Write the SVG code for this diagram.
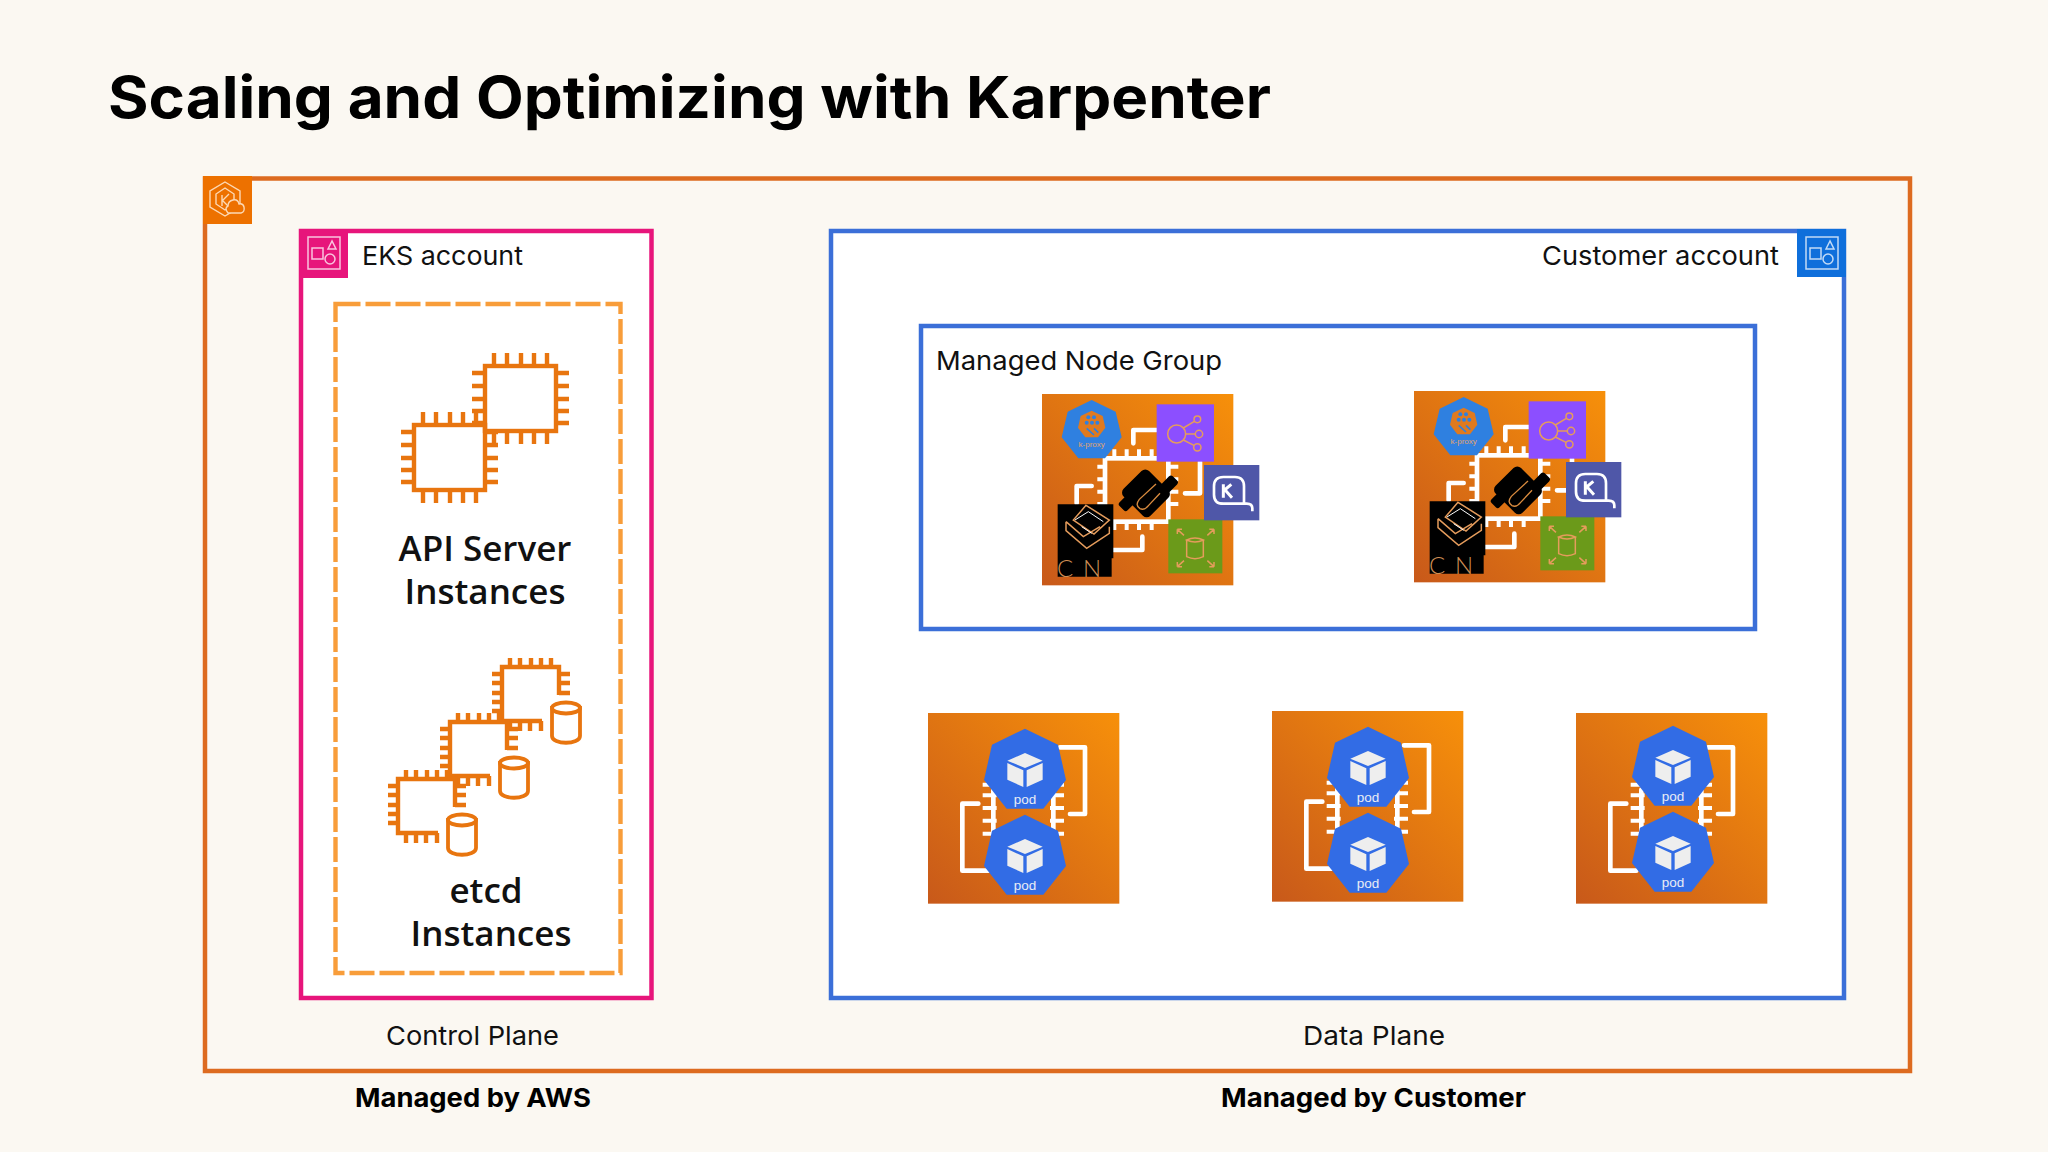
<svg xmlns="http://www.w3.org/2000/svg" xmlns:xlink="http://www.w3.org/1999/xlink" width="2048" height="1152" viewBox="0 0 2048 1152">
<style>
.m{font-family:"Inter","Liberation Sans",sans-serif;fill:#111}
.lab{font-size:26px;font-weight:400}
.bold{font-size:26px;font-weight:700;fill:#000}
.os{font-family:"Open Sans","Noto Sans",sans-serif;font-size:35px;font-weight:600;fill:#111;text-anchor:middle}
.chip{fill:none;stroke:#e8750f;stroke-width:4.400}
.cyl{fill:#fff;stroke:#e8750f;stroke-width:3.800}
.wl{fill:none;stroke:#fff;stroke-width:14;stroke-linejoin:round;stroke-linecap:round}
.pin{fill:none;stroke:#fff;stroke-width:12}
.tan{fill:none;stroke:#e59c5c;stroke-width:4.500}
.pod{font-family:"Liberation Sans",Arial,sans-serif;font-size:13.500px;fill:#e9edf5;text-anchor:middle}
.tile{fill:none;stroke:#fff;stroke-opacity:.75;stroke-width:1.500}
</style>
<defs>
<linearGradient id="og" x1="0" y1="1" x2="1" y2="0"><stop offset="0" stop-color="#c8591a"/><stop offset="1" stop-color="#f7900a"/></linearGradient>
<g id="tiles">
<rect class="tile" x="9" y="8" width="32" height="32"/>
<rect class="tile" x="13" y="19" width="11" height="11"/>
<path class="tile" d="M33 12L29 20H37Z"/>
<circle class="tile" cx="31" cy="30" r="5"/>
</g>
<g id="chipA" class="chip">
<rect x="0" y="0" width="71" height="65"/>
<path d="M9-13V0M22-13V0M36-13V0M49-13V0M62-13V0M9 65V78M22 65V78M36 65V78M49 65V78M62 65V78M-13 7H0M-13 20H0M-13 33H0M-13 45H0M-13 57H0M71 7H84M71 20H84M71 33H84M71 45H84M71 57H84"/>
</g>
<g id="chipB">
<path class="chip" d="M40 54H0V0H57V28M8-9V0M18-9V0M29-9V0M39-9V0M49-9V0M-10 7H0M-10 16H0M-10 26H0M-10 35H0M-10 44H0M57 7H68M57 16H68M57 26H68M8 54V64M18 54V64M28 54V64M39 54V64"/>
<path class="cyl" d="M50 41V69C50 78 78 78 78 69V41Z"/>
<ellipse class="cyl" cx="64" cy="41" rx="14" ry="5.500"/>
</g>
<g id="hept"><polygon points="0,-126 99,-78 123,28 55,114 -55,114 -123,28 -99,-78" fill="#326ce5"/>
<path d="M0-53L53-30L0-8L-53-30ZM-53-23L-5-1V49L-53 27ZM5-1L53-23V27L5 49Z" fill="#eee"/></g>
<g id="podBase" transform="scale(.33333) translate(-54,-40)">
<rect x="54" y="40" width="574" height="572" fill="url(#og)"/>
<path class="wl" d="M450 143H525V343H480M235 513H157V312H205"/>
<path class="wl" d="M250 270V400M430 270V400"/>
<path class="pin" d="M218 255H260M218 287H260M218 325H260M218 363H260M218 402H260M420 255H462M420 287H462M420 325H462M420 363H462M420 402H462"/>
</g>
<g id="podHepts" transform="scale(.33333) translate(-54,-40)">
<use href="#hept" transform="translate(345,213)"/>
<use href="#hept" transform="translate(345,471)"/>
</g>
<g id="nodeBase" transform="scale(.33333) translate(-66,-42)">
<rect x="66" y="42" width="574" height="574" fill="url(#og)"/>
<rect x="255" y="235" width="190" height="190" fill="none" stroke="#fff" stroke-width="14"/>
<path class="pin" d="M283 208V235M320 208V235M357 208V235M395 208V235M283 425V450M320 425V450M357 425V450M395 425V450M232 260H255M232 298H255M232 335H255M232 372H255M445 260H475M445 298H475M445 335H475M445 372H475"/>
<path class="wl" d="M340 190V150H410M540 245V340H495M170 370V318H215M280 510H367V470"/>
<g transform="rotate(-45 385 340)" fill="#000">
<rect x="326" y="278" width="108" height="114" rx="16"/>
<rect x="425" y="348" width="48" height="34" rx="8"/>
<rect x="297" y="298" width="48" height="34" rx="8"/>
</g>
<path d="M408 312L358 358Q344 376 360 386Q374 392 386 376L420 340" fill="none" stroke="#d98b3f" stroke-width="4"/>
<polygon points="215,60 287,95 305,172 255,235 175,235 125,172 143,95" fill="#2f80e0"/>
<polygon points="215,92 248,108 256,143 234,172 196,172 174,143 182,108" fill="#e07a1f"/>
<g fill="#2f80e0"><circle cx="205" cy="112" r="6"/><circle cx="222" cy="112" r="6"/><circle cx="200" cy="128" r="6"/><circle cx="216" cy="128" r="6"/><circle cx="232" cy="128" r="6"/></g>
<path d="M200 145L222 165M222 145L235 158" stroke="#2f80e0" stroke-width="5" fill="none"/>
<rect x="410" y="73" width="172" height="172" fill="#8c4fff"/>
<circle class="tan" cx="470" cy="162" r="27"/><circle class="tan" cx="532" cy="118" r="10"/><circle class="tan" cx="537" cy="162" r="11"/><circle class="tan" cx="532" cy="202" r="11"/>
<path class="tan" d="M490 144L523 124M497 162H526M490 180L522 196"/>
<rect x="445" y="418" width="162" height="162" fill="#6b9a1a"/>
<path class="tan" d="M500 480V530Q525 542 550 530V480M500 480Q525 468 550 480Q525 492 500 480ZM472 448L492 466M472 448V462M472 448H486M582 448L562 466M582 448V462M582 448H568M472 560L492 542M472 560V546M472 560H486M582 560L562 542M582 560V546M582 560H568"/>
<path d="M113 373H280V535H275V590H113Z" fill="#000"/>
<path class="tan" d="M198 376L268 420L222 462L160 420ZM138 425V452L200 505L268 460V440M138 425L190 470L240 440"/>
<path d="M165 420L205 395L250 425M185 440L215 460" fill="none" stroke="#fff" stroke-width="3"/>
</g>
<g id="kbox" transform="scale(.33333)">
<rect x="0" y="0" width="166" height="166" fill="#4f57a8"/>
<path d="M145 139V130Q145 116 128 116H58Q30 116 30 89V64Q30 36 58 36H93Q120 36 120 64V116" fill="none" stroke="#fff" stroke-width="8"/>
<path d="M58 58V98M58 78L82 58M64 76L84 98" fill="none" stroke="#fff" stroke-width="9"/>
</g>
</defs>
<rect width="2048" height="1152" fill="#fbf8f2"/>
<g id="title"><text x="108" y="118" font-size="58" font-weight="700" class="m" style="fill:#000" textLength="1163" lengthAdjust="spacingAndGlyphs">Scaling and Optimizing with Karpenter</text></g>
<g id="eks-cluster">
<rect x="205" y="178.500" width="1705" height="892.500" fill="#fbf8f2" stroke="#dd6b20" stroke-width="4.500"/>
<rect x="203" y="176" width="49" height="48" fill="#ed7100"/>
<g fill="none" stroke="#fcd9b5" stroke-width="1.400">
<path d="M225 182L240 191V207L225 216L210 207V191Z"/><path d="M225 188L234 194V204L225 210L216 204V194Z"/><path d="M222 195V206M222 201L229 194M223 201L230 208"/>
<path d="M228 213H241Q245 212 244 207Q243 203 239 204Q238 199 233 200Q228 201 228 206Q224 208 228 213Z" fill="#ed7100"/>
</g>
</g>
<g id="eks-account">
<rect x="301" y="231" width="350.500" height="767" fill="#fff" stroke="#e7157b" stroke-width="4.500"/>
<rect x="299" y="229" width="49" height="49" fill="#e7157b"/>
<use href="#tiles" x="299" y="229"/>
<text x="362" y="265" class="m lab" textLength="161" lengthAdjust="spacingAndGlyphs">EKS account</text>
</g>
<g id="control-plane-group"><rect x="335.500" y="304" width="285" height="669" fill="none" stroke="#f89d3a" stroke-width="4.400" stroke-dasharray="25 5"/></g>
<g id="api-server">
<use href="#chipA" transform="translate(485,366)"/>
<use href="#chipA" transform="translate(414,425)"/>
<text x="485" y="561" class="os">API Server</text>
<text x="485" y="604" class="os">Instances</text>
</g>
<g id="etcd">
<use href="#chipB" transform="translate(502,667)"/>
<use href="#chipB" transform="translate(450,722)"/>
<use href="#chipB" transform="translate(398,779)"/>
<text x="486" y="903" class="os">etcd</text>
<text x="491" y="946" class="os">Instances</text>
</g>
<g id="customer-account">
<rect x="831" y="231" width="1013" height="767" fill="#fff" stroke="#3b6fd8" stroke-width="4.500"/>
<rect x="1797" y="229" width="49" height="48" fill="#0f6fdb"/>
<use href="#tiles" x="1797" y="229"/>
<text x="1542" y="265" class="m lab" textLength="237" lengthAdjust="spacingAndGlyphs">Customer account</text>
</g>
<g id="managed-node-group">
<rect x="921" y="326" width="834" height="303" fill="#fff" stroke="#3b6fd8" stroke-width="4.500"/>
<text x="936" y="370" class="m lab" textLength="286" lengthAdjust="spacingAndGlyphs">Managed Node Group</text>
</g>
<g id="node-1" transform="translate(1042,394)">
<use href="#nodeBase"/>
<use href="#kbox" x="162" y="71"/>
<text x="49.700" y="52.700" font-family="Liberation Sans,sans-serif" font-size="8" fill="#e2a36a" text-anchor="middle">k-proxy</text>
<text x="15" y="182.700" font-family="Lato,Liberation Sans,sans-serif" font-size="24" font-weight="300" fill="#cf8f55" textLength="44">CN</text>
</g>
<g id="node-2" transform="translate(1414,391)">
<use href="#nodeBase"/>
<use href="#kbox" x="152" y="71"/>
<text x="49.700" y="52.700" font-family="Liberation Sans,sans-serif" font-size="8" fill="#e2a36a" text-anchor="middle">k-proxy</text>
<text x="15" y="182.700" font-family="Lato,Liberation Sans,sans-serif" font-size="24" font-weight="300" fill="#cf8f55" textLength="44">CN</text>
</g>
<g id="pod-node-1" transform="translate(928,713)"><use href="#podBase"/><use href="#podHepts"/><text x="97" y="90.700" class="pod">pod</text><text x="97" y="176.700" class="pod">pod</text></g>
<g id="pod-node-2" transform="translate(1272,711)"><use href="#podBase"/><use href="#podHepts" x="-1"/><text x="96" y="90.700" class="pod">pod</text><text x="96" y="176.700" class="pod">pod</text></g>
<g id="pod-node-3" transform="translate(1576,713)"><use href="#podBase"/><use href="#podHepts" y="-3"/><text x="97" y="87.700" class="pod">pod</text><text x="97" y="173.700" class="pod">pod</text></g>
<g id="captions">
<text x="386" y="1045" class="m lab" textLength="173" lengthAdjust="spacingAndGlyphs">Control Plane</text>
<text x="1303" y="1045" class="m lab" textLength="142" lengthAdjust="spacingAndGlyphs">Data Plane</text>
<text x="355" y="1107" class="m bold" textLength="236" lengthAdjust="spacingAndGlyphs">Managed by AWS</text>
<text x="1221" y="1107" class="m bold" textLength="305" lengthAdjust="spacingAndGlyphs">Managed by Customer</text>
</g>
</svg>
